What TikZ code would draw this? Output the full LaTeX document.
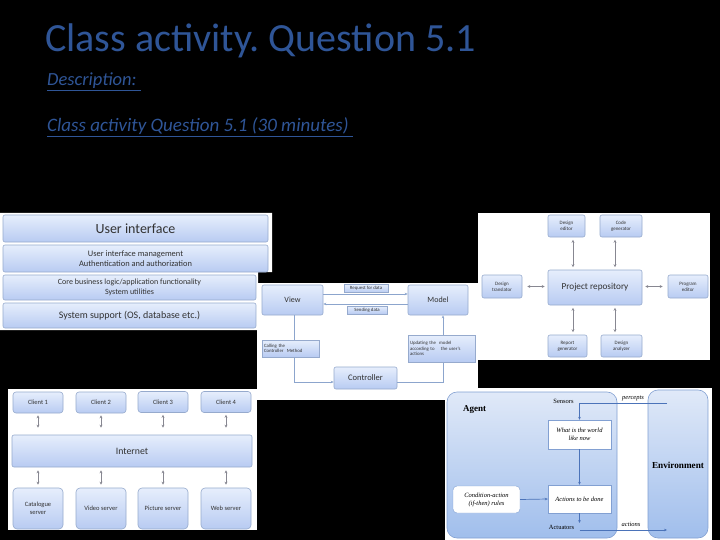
\documentclass[tikz,border=0pt]{standalone}
\usepackage{fontspec}
\setmainfont{Carlito}
\newfontfamily\tms{Liberation Serif}
\usetikzlibrary{arrows.meta}
\definecolor{titleblue}{RGB}{47,85,151}
\definecolor{boxtop}{RGB}{230,238,252}
\definecolor{boxbot}{RGB}{184,203,242}
\definecolor{boxline}{RGB}{150,170,205}
\definecolor{arrgray}{RGB}{135,135,145}
\definecolor{mvcline}{RGB}{140,165,205}
\definecolor{agtop}{RGB}{224,233,248}
\definecolor{agbot}{RGB}{160,190,236}
\definecolor{agline}{RGB}{130,160,210}
\definecolor{agarrow}{RGB}{75,115,185}
\definecolor{txt}{RGB}{50,50,50}
\frenchspacing
\begin{document}
\begin{tikzpicture}[x=1pt,y=-1pt,
  bx/.style={draw=boxline, line width=0.6pt, rounded corners=2pt, top color=boxtop, bottom color=boxbot, text=txt, align=center, inner sep=0pt},
  lbl/.style={bx, rounded corners=0pt, font=\fontsize{4.8}{5.6}\selectfont},
  dar/.style={arrgray, line width=0.6pt, {Stealth[length=3pt,width=3pt]}-{Stealth[length=3pt,width=3pt]}},
  mar/.style={mvcline, line width=0.6pt, -{Stealth[length=3pt,width=2.5pt]}},
  aar/.style={agarrow, line width=0.7pt, -{Stealth[length=3pt,width=2.6pt]}},
  abox/.style={draw=agline, fill=white, text=black, align=center, inner sep=0pt, font=\tms\itshape\fontsize{6.5}{8}\selectfont},
  agbox/.style={draw=agline, line width=0.6pt, rounded corners=10pt, top color=agtop, bottom color=agbot, inner sep=0pt},
  small/.style={font=\fontsize{5}{6}\selectfont},
  cs/.style={font=\fontsize{6.5}{7.8}\selectfont}
]
\fill[black] (0,0) rectangle (720,540);
\useasboundingbox (0,0) rectangle (720,540);

% title and texts
\node[anchor=base west, inner sep=0pt, text=titleblue, font=\fontsize{40}{43}\selectfont] (title) at (45,52) {Class activity. Question 5.1};
\node[anchor=base west, inner sep=0pt, text=titleblue, font=\itshape\fontsize{18.5}{20}\selectfont] (desc) at (47,86) {\underline{Description:\ }};
\node[anchor=base west, inner sep=0pt, text=titleblue, font=\itshape\fontsize{19}{20}\selectfont] (act51) at (47,131.5) {\underline{Class activity Question 5.1 (30 minutes)\ }};

% panel 1: layers
\fill[white] (0,213) -- (272,213) -- (272,272) -- (258,272) -- (258,330) -- (0,330) -- cycle;
\node[bx, minimum width=265, minimum height=27, font=\fontsize{14}{16}\selectfont] (ui) at (135.5,228.5) {User interface};
\node[bx, minimum width=265, minimum height=27, font=\fontsize{8.4}{10.5}\selectfont] (uim) at (135.5,258.5) {User interface management\\Authentication and authorization};
\node[bx, minimum width=253, minimum height=25, font=\fontsize{8}{10}\selectfont] (core) at (129.5,287.5) {Core business logic/application functionality\\System utilities};
\node[bx, minimum width=253, minimum height=25, font=\fontsize{10}{12}\selectfont] (sys) at (129.5,315.5) {System support (OS, database etc.)};

% panel 2: MVC
\fill[white] (257,283) rectangle (478,400);
\node[bx, minimum width=61, minimum height=30, font=\fontsize{8}{9}\selectfont] (view) at (292.5,300) {View};
\node[bx, minimum width=60, minimum height=30, font=\fontsize{8}{9}\selectfont] (model) at (438,300) {Model};
\node[bx, minimum width=63, minimum height=22, font=\fontsize{8.5}{9}\selectfont] (ctrl) at (365.5,378) {Controller};
\node[lbl, minimum width=44, minimum height=8] (req) at (366,288.5) {Request for data};
\node[lbl, minimum width=40, minimum height=8] (snd) at (367,310) {Sending data};
\draw[mar] ([yshift=6pt]view.east) -- ([yshift=6pt]model.west);
\draw[mar] ([yshift=-4pt]model.west) -- ([yshift=-4pt]view.east);
\draw[mar] ([xshift=1.5pt]view.south) |- ([yshift=-4pt]ctrl.west);
\draw[mar] ([yshift=-4pt]ctrl.east) -| ([xshift=5pt]model.south);
\node[lbl, minimum width=57, minimum height=17, text width=53pt, align=left] (call) at (290.5,348.5) {Calling the\\Controller~~Method};
\node[lbl, minimum width=67, minimum height=27, text width=63pt, align=left] (upd) at (441.5,348.5) {Updating the~~model\\according to~~~~the user's\\actions};

% panel 3: repository
\fill[white] (478,213) rectangle (710,360);
\node[bx, small, minimum width=37, minimum height=22] (de) at (566.5,226) {Design\\editor};
\node[bx, small, minimum width=42, minimum height=22] (cg) at (621,226) {Code\\generator};
\node[bx, minimum width=94, minimum height=35, font=\fontsize{9.2}{10}\selectfont] (pr) at (595,287.5) {Project repository};
\node[bx, small, minimum width=40, minimum height=23] (dt) at (502,286.5) {Design\\translator};
\node[bx, small, minimum width=40, minimum height=23] (pe) at (688,286.5) {Program\\editor};
\node[bx, small, minimum width=39, minimum height=22] (rg) at (567.5,346) {Report\\generator};
\node[bx, small, minimum width=41, minimum height=22] (da) at (621.5,346) {Design\\analyzer};
\coordinate (ra) at (573,0);
\coordinate (rb) at (615,0);
\draw[dar, shorten <=2.5pt, shorten >=2.5pt] (de.south -| ra) -- (pr.north -| ra);
\draw[dar, shorten <=2.5pt, shorten >=2.5pt] (cg.south -| rb) -- (pr.north -| rb);
\draw[dar, shorten <=2.5pt, shorten >=2.5pt] (pr.south -| ra) -- (rg.north -| ra);
\draw[dar, shorten <=2.5pt, shorten >=2.5pt] (pr.south -| rb) -- (da.north -| rb);
\draw[dar, shorten <=5pt, shorten >=3pt] (dt.east) -- (dt.east -| pr.west);
\draw[dar, shorten <=3pt, shorten >=5pt] (pe.west -| pr.east) -- (pe.west);

% panel 4: client-server
\fill[white] (8,389) rectangle (257,530);
\node[bx, cs, minimum width=50, minimum height=21, rounded corners=3pt] (c1) at (38,402.5) {Client 1};
\node[bx, cs, minimum width=50, minimum height=21, rounded corners=3pt] (c2) at (101,402.5) {Client 2};
\node[bx, cs, minimum width=50, minimum height=21, rounded corners=3pt] (c3) at (163,402) {Client 3};
\node[bx, cs, minimum width=50, minimum height=21, rounded corners=3pt] (c4) at (226,402) {Client 4};
\node[bx, minimum width=240, minimum height=32, font=\fontsize{9.8}{11}\selectfont] (inet) at (132,451) {Internet};
\node[bx, cs, minimum width=50, minimum height=41, rounded corners=4pt] (s1) at (38,508.5) {Catalogue\\server};
\node[bx, cs, minimum width=50, minimum height=41, rounded corners=4pt] (s2) at (101,508.5) {Video server};
\node[bx, cs, minimum width=50, minimum height=41, rounded corners=4pt] (s3) at (163,508.5) {Picture server};
\node[bx, cs, minimum width=50, minimum height=41, rounded corners=4pt] (s4) at (226,508.5) {Web server};
\foreach \n in {1,2,3,4}{
  \draw[dar, shorten <=2pt, shorten >=7pt] (c\n.south) -- (c\n.south |- inet.north);
  \draw[dar, shorten <=3pt, shorten >=3pt] (inet.south -| s\n.north) -- (s\n.north);
}

% panel 5: agent
\fill[white] (445,388) rectangle (712,540);
\node[agbox, minimum width=170, minimum height=146] (agent) at (532,465) {};
\node[agbox, minimum width=60, minimum height=148] (env) at (678,464) {};
\node[anchor=west, inner sep=0pt, font=\tms\bfseries\fontsize{9}{10}\selectfont] (agl) at (463,410) {Agent};
\node[inner sep=0pt, font=\tms\bfseries\fontsize{9.2}{10}\selectfont] (envl) at (678,465) {Environment};
\node[inner sep=0pt, font=\tms\fontsize{6.5}{7}\selectfont] (sens) at (563.5,401) {Sensors};
\node[inner sep=0pt, font=\tms\itshape\fontsize{6.5}{7}\selectfont] (perc) at (633,398.5) {percepts};
\node[abox, minimum width=63, minimum height=29] (world) at (579.5,434.5) {What is the world\\like now};
\node[abox, minimum width=63, minimum height=28] (act) at (579.5,499) {Actions to be done};
\node[abox, rounded corners=4pt, minimum width=67, minimum height=27] (cond) at (486.5,499.5) {Condition-action\\(if-then) rules};
\node[inner sep=0pt, font=\tms\fontsize{6.5}{7}\selectfont] (actu) at (561.5,527) {Actuators};
\node[inner sep=0pt, font=\tms\itshape\fontsize{6.5}{7}\selectfont] (actl) at (631,524) {actions};
\coordinate (pin) at (667,403.5);
\coordinate (adown) at (0,523);
\coordinate (aout) at (667,530);
\draw[aar] (pin) -| (world.north);
\draw[aar] (world.south) -- (act.north);
\draw[aar] (cond.east) -- (act.west);
\draw[aar] (act.south) -- (act.south |- adown);
\draw[aar] (act.south |- aout) -- (aout);
\end{tikzpicture}
\end{document}
